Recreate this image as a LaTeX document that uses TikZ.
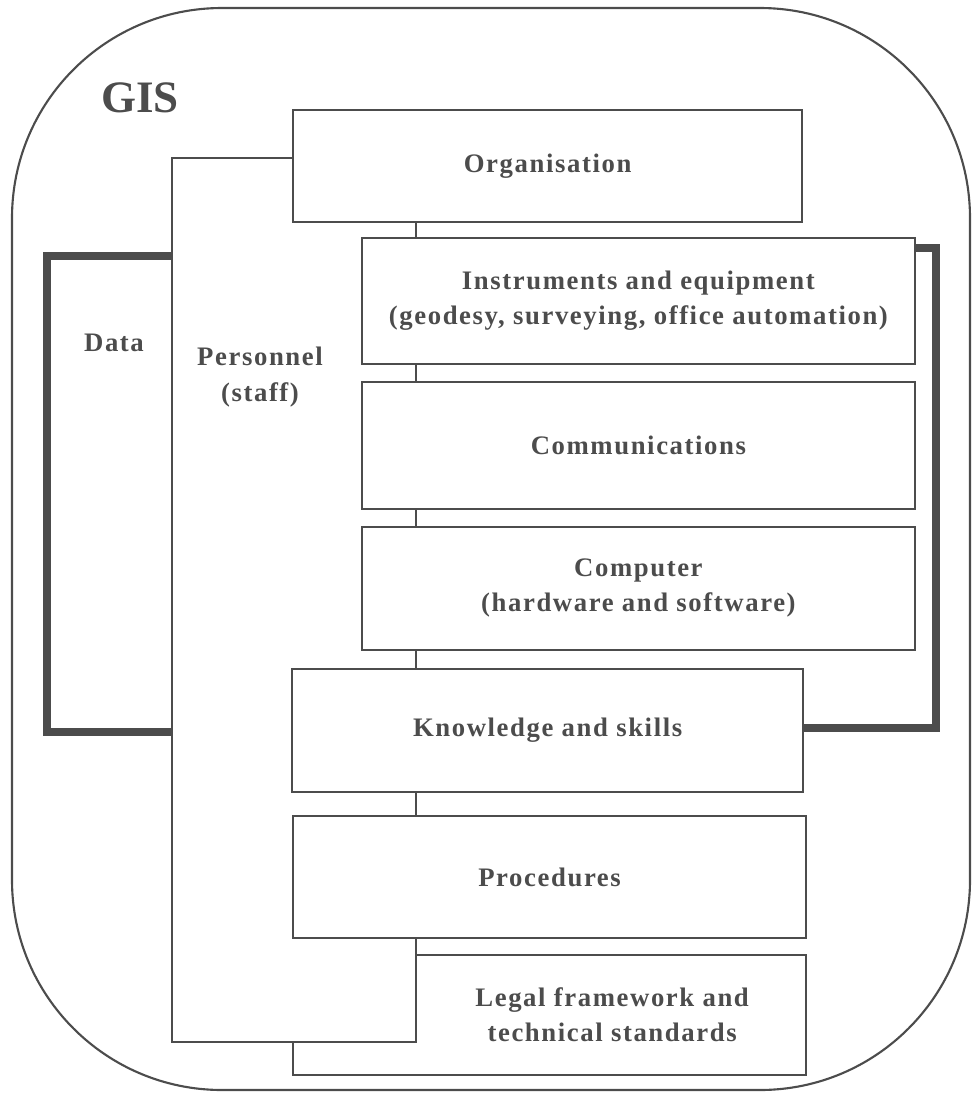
\documentclass[tikz,border=0pt]{standalone}
\usepackage{fontspec}
\setmainfont{Liberation Serif}
\newfontfamily\boxfont[LetterSpace=6]{Liberation Serif}
\usetikzlibrary{calc,positioning}
\definecolor{ink}{gray}{0.3}
\tikzset{
  box/.style={draw=ink, fill=white, line width=1.5pt, inner sep=0pt, text=ink,
              font=\boxfont\fontsize{19}{25}\selectfont\bfseries, align=center},
  txt/.style={text=ink, font=\boxfont\fontsize{19}{25}\selectfont\bfseries, align=center},
  heavy/.style={draw=ink, line width=5pt},
  frame/.style={draw=ink, line width=1.5pt, rounded corners=5.25cm}
}

\begin{document}
\begin{tikzpicture}
    \useasboundingbox (0,0) rectangle (24.3,-27.475);

    % Outer GIS frame.
    \draw[frame] (0.3,-0.2) rectangle (24.25,-27.25);
    \node[text=ink, font=\fontsize{32}{36}\selectfont\bfseries] (gis) at (3.5,-2.45) {GIS};

    % Legal box sits under the personnel block.
    \node[box, minimum width=12.825cm, minimum height=3.0cm] (legal) at (13.74,-25.375) {};

    % Personnel block behind the column of boxes.
    \node[box, minimum width=6.1cm, minimum height=22.1cm] (staff) at (7.35,-15.0) {};
    \node[txt] (stafftxt) at (6.5,-9.425) {Personnel\\(staff)};
    \node[txt] (legaltxt) at ($(staff.east |- legal.center)!0.5!(legal.east)$)
        {Legal framework and\\technical standards};

    % Data bracket on the left.
    \coordinate (dtop) at (1.175,-6.4);
    \coordinate (dbot) at (1.175,-18.3);
    \draw[heavy] (staff.west |- dtop) -- (dtop) -- (dbot) -- (staff.west |- dbot);
    \node[txt] (data) at (2.85,-8.575) {Data};

    % Column of boxes.
    \node[box, minimum width=12.725cm, minimum height=2.8cm] (org) at (13.69,-4.15) {Organisation};
    \node[box, minimum width=13.825cm, minimum height=3.15cm] (instr) at (15.96,-7.525)
        {Instruments and equipment\\(geodesy, surveying, office automation)};
    \node[box, minimum width=13.825cm, minimum height=3.175cm] (comm) at (15.96,-11.14) {Communications};
    \node[box, minimum width=13.825cm, minimum height=3.075cm] (comp) at (15.96,-14.71)
        {Computer\\(hardware and software)};
    \node[box, minimum width=12.775cm, minimum height=3.075cm] (know) at (13.69,-18.26) {Knowledge and skills};
    \node[box, minimum width=12.825cm, minimum height=3.05cm] (proc) at (13.74,-21.925) {Procedures};

    % Bracket on the right.
    \coordinate (rtop) at (23.4,-6.2);
    \coordinate (rbot) at (23.4,-18.2);
    \draw[heavy] (instr.east |- rtop) -- (rtop) -- (rbot) -- (know.east |- rbot);

\end{tikzpicture}
\end{document}
